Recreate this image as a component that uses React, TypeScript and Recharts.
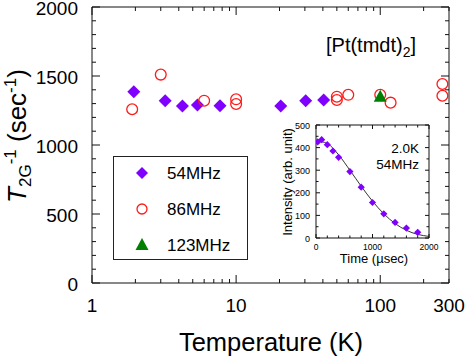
import React from 'react';
import { ScatterChart, Scatter, XAxis, YAxis, Legend, Label } from 'recharts';

const FONT = 'Arial, "Liberation Sans", sans-serif';

// ---- main data: relaxation rate T2G^-1 (sec^-1) vs temperature (K)
const temp54 = [1.95, 3.22, 4.24, 5.39, 7.73, 20.4, 30.4, 40.5];
const rate54 = [1386, 1321, 1283, 1290, 1285, 1283, 1321, 1326];
const temp86 = [1.9, 3.0, 6.0, 10, 10, 50, 50, 60, 100, 118, 270, 270];
const rate86 = [1259, 1510, 1321, 1331, 1297, 1350, 1326, 1364, 1364, 1307, 1442, 1357];
const temp123 = [100];
const rate123 = [1350];

const seriesNames = ['54MHz', '86MHz', '123MHz'];

const xTicks = [1, 2, 3, 4, 5, 6, 7, 8, 9, 10, 20, 30, 40, 50, 60, 70, 80, 90, 100, 200, 300];
const xMajor = [1, 10, 100];
const xLabels = [1, 10, 100, 300];
const yTicks = [0, 100, 200, 300, 400, 500, 600, 700, 800, 900, 1000, 1100, 1200, 1300, 1400, 1500, 1600, 1700, 1800, 1900, 2000];
const yLabels = [0, 500, 1000, 1500, 2000];

// ---- inset data: echo intensity vs time at 2.0 K, 54 MHz
const decayTime = [30, 100, 200, 300, 400, 600, 800, 1000, 1200, 1400, 1600, 1800];
const decayIntensity = [425, 435, 413, 385, 357, 294, 225, 157, 107, 69, 44, 25];
const fitTime = [0, 200, 400, 600, 800, 1000, 1200, 1400, 1600, 1800, 2000];
const fitIntensity = [430, 418, 368, 300, 229, 163, 107, 64, 34, 16, 7];

const insetXTicks = [0, 200, 400, 600, 800, 1000, 1200, 1400, 1600, 1800, 2000];
const insetXLabels = [0, 1000, 2000];
const insetYTicks = [0, 50, 100, 150, 200, 250, 300, 350, 400, 450, 500];
const insetYLabels = [0, 100, 200, 300, 400, 500];

const zip = (xs: number[], ys: number[]) => xs.map((x, i) => ({ x, y: ys[i] }));

const PURPLE = '#7f00ff';
const RED = '#ff1a1a';
const GREEN = '#008000';

type Side = 'left' | 'right' | 'top' | 'bottom';
interface TickOpts {
  labels: number[];
  majors: number[];
  majorLen: number;
  minorLen: number;
  fontSize: number;
  gap: number;
}

function makeTick(side: Side, o: TickOpts) {
  return (props: any) => {
    const { x, y, payload } = props;
    const v = payload.value as number;
    const len = o.majors.includes(v) ? o.majorLen : o.minorLen;
    let x2 = x;
    let y2 = y;
    if (side === 'left') x2 = x + len;
    else if (side === 'right') x2 = x - len;
    else if (side === 'bottom') y2 = y - len;
    else y2 = y + len;
    const show = o.labels.includes(v);
    return (
      <g>
        <line x1={x} y1={y} x2={x2} y2={y2} stroke="#111" strokeWidth={1} />
        {show && side === 'left' && (
          <text x={x - o.gap} y={y} dy="0.41em" textAnchor="end" fontSize={o.fontSize} fontFamily={FONT} fill="#000">
            {v}
          </text>
        )}
        {show && side === 'bottom' && (
          <text x={x} y={y + o.gap} dy="0.71em" textAnchor="middle" fontSize={o.fontSize} fontFamily={FONT} fill="#000">
            {v}
          </text>
        )}
      </g>
    );
  };
}

const noLabel: number[] = [];
const mainBottomTick = makeTick('bottom', { labels: xLabels, majors: xMajor, majorLen: 8, minorLen: 4, fontSize: 19, gap: 16 });
const mainTopTick = makeTick('top', { labels: noLabel, majors: xMajor, majorLen: 8, minorLen: 4, fontSize: 19, gap: 0 });
const mainLeftTick = makeTick('left', { labels: yLabels, majors: yLabels, majorLen: 8, minorLen: 4, fontSize: 19, gap: 14 });
const mainRightTick = makeTick('right', { labels: noLabel, majors: yLabels, majorLen: 8, minorLen: 4, fontSize: 19, gap: 0 });

const inBottomTick = makeTick('bottom', { labels: insetXLabels, majors: insetXLabels, majorLen: 4, minorLen: 2.5, fontSize: 8.5, gap: 6 });
const inTopTick = makeTick('top', { labels: noLabel, majors: insetXLabels, majorLen: 4, minorLen: 2.5, fontSize: 8.5, gap: 0 });
const inLeftTick = makeTick('left', { labels: insetYLabels, majors: insetYLabels, majorLen: 4, minorLen: 2.5, fontSize: 9, gap: 6 });
const inRightTick = makeTick('right', { labels: noLabel, majors: insetYLabels, majorLen: 4, minorLen: 2.5, fontSize: 9, gap: 0 });

const DiamondShape = (half: number, color: string) => (props: any) => {
  const { cx, cy } = props;
  if (cx == null || cy == null) return <g />;
  return (
    <polygon
      points={`${cx},${cy - half} ${cx + half},${cy} ${cx},${cy + half} ${cx - half},${cy}`}
      fill={color}
    />
  );
};

const CircleShape = (r: number, color: string) => (props: any) => {
  const { cx, cy } = props;
  if (cx == null || cy == null) return <g />;
  return <circle cx={cx} cy={cy} r={r} fill="none" stroke={color} strokeWidth={1.3} />;
};

const TriangleShape = (w: number, color: string) => (props: any) => {
  const { cx, cy } = props;
  if (cx == null || cy == null) return <g />;
  const h = w * 0.92;
  return (
    <polygon
      points={`${cx},${cy - h * 0.58} ${cx + w / 2},${cy + h * 0.42} ${cx - w / 2},${cy + h * 0.42}`}
      fill={color}
    />
  );
};

const NoShape = () => <g />;

const LegendBox = () => {
  const rows = [
    { name: seriesNames[0], icon: DiamondShape(6, PURPLE) },
    { name: seriesNames[1], icon: CircleShape(5, RED) },
    { name: seriesNames[2], icon: TriangleShape(13, GREEN) },
  ];
  return (
    <svg width={136} height={105} style={{ display: 'block' }}>
      <rect x={0.5} y={0.5} width={134} height={103} fill="#fff" stroke="#222" strokeWidth={1} />
      {rows.map((r, i) => {
        const cy = 17 + i * 36;
        const Icon = r.icon;
        return (
          <g key={r.name}>
            <Icon cx={29} cy={cy} />
            <text x={54} y={cy + 6} fontSize={17} fontFamily={FONT} fill="#000">
              {r.name}
            </text>
          </g>
        );
      })}
    </svg>
  );
};

const YTitle = () => (
  <text x={26} y={136} transform="rotate(-90, 26, 136)" textAnchor="middle" fontSize={26} fontFamily={FONT} fill="#000">
    <tspan fontStyle="italic">T</tspan>
    <tspan fontSize={17} dy={5}>2G</tspan>
    <tspan fontSize={17} dy={-15}>-1</tspan>
    <tspan fontSize={26} dy={10}> (sec</tspan>
    <tspan fontSize={17} dy={-10}>-1</tspan>
    <tspan fontSize={26} dy={10}>)</tspan>
  </text>
);

const XTitle = () => (
  <text x={271} y={351} textAnchor="middle" fontSize={25.5} fontFamily={FONT} fill="#000">
    Temperature (K)
  </text>
);

const CompoundTitle = () => (
  <text x={326} y={52} fontSize={20} fontFamily={FONT} fill="#000">
    [Pt(tmdt)
    <tspan fontSize={14} dy={5}>2</tspan>
    <tspan fontSize={20} dy={-5}>]</tspan>
  </text>
);

const InsetYTitle = () => (
  <text x={26} y={67} transform="rotate(-90, 26, 67)" textAnchor="middle" fontSize={13} fontFamily={FONT} fill="#000">
    Intensity (arb. unit)
  </text>
);

const InsetXTitle = () => (
  <text x={108} y={148} textAnchor="middle" fontSize={13} fontFamily={FONT} fill="#000">
    Time (µsec)
  </text>
);

const InsetNote = () => (
  <text textAnchor="end" fontSize={13.5} fontFamily={FONT} fill="#000">
    <tspan x={153} y={38}>2.0K</tspan>
    <tspan x={153} y={54}>54MHz</tspan>
  </text>
);

const axisLine = { stroke: '#111', strokeWidth: 1 };

function Inset() {
  return (
    <ScatterChart width={174} height={155} margin={{ top: 9, right: 10, bottom: 31, left: 49 }}>
      <XAxis
        xAxisId="b"
        type="number"
        dataKey="x"
        domain={[0, 2000]}
        allowDataOverflow
        ticks={insetXTicks}
        interval={0}
        height={1}
        tickSize={0}
        tickMargin={0}
        tickLine={false}
        axisLine={axisLine}
        tick={inBottomTick}
      >
        <Label content={() => <InsetXTitle />} />
      </XAxis>
      <XAxis
        xAxisId="t"
        orientation="top"
        type="number"
        dataKey="x"
        domain={[0, 2000]}
        allowDataOverflow
        ticks={insetXTicks}
        interval={0}
        height={1}
        tickSize={0}
        tickMargin={0}
        tickLine={false}
        axisLine={axisLine}
        tick={inTopTick}
      >
        <Label content={() => <InsetNote />} />
      </XAxis>
      <YAxis
        yAxisId="l"
        type="number"
        dataKey="y"
        domain={[0, 500]}
        allowDataOverflow
        ticks={insetYTicks}
        interval={0}
        width={1}
        tickSize={0}
        tickMargin={0}
        tickLine={false}
        axisLine={axisLine}
        tick={inLeftTick}
      >
        <Label content={() => <InsetYTitle />} />
      </YAxis>
      <YAxis
        yAxisId="r"
        orientation="right"
        type="number"
        dataKey="y"
        domain={[0, 500]}
        allowDataOverflow
        ticks={insetYTicks}
        interval={0}
        width={1}
        tickSize={0}
        tickMargin={0}
        tickLine={false}
        axisLine={axisLine}
        tick={inRightTick}
      />
      <Scatter
        xAxisId="b"
        yAxisId="l"
        data={zip(fitTime, fitIntensity)}
        line={{ stroke: '#333', strokeWidth: 1 }}
        lineType="joint"
        lineJointType="monotoneX"
        shape={NoShape}
        isAnimationActive={false}
      />
      <Scatter
        xAxisId="b"
        yAxisId="l"
        data={zip(decayTime, decayIntensity)}
        shape={DiamondShape(3.6, PURPLE)}
        isAnimationActive={false}
      />
      <Scatter xAxisId="t" yAxisId="r" data={[]} shape={NoShape} isAnimationActive={false} />
    </ScatterChart>
  );
}

export default function App() {
  return (
    <div style={{ position: 'absolute', left: 0, top: 0, width: 469, height: 359, background: '#fff' }}>
      <ScatterChart width={469} height={359} margin={{ top: 6, right: 19, bottom: 75, left: 91 }}>
        <XAxis
          xAxisId="b"
          type="number"
          dataKey="x"
          scale="log"
          domain={[1, 300]}
          allowDataOverflow
          ticks={xTicks}
          interval={0}
          height={1}
          tickSize={0}
          tickMargin={0}
          tickLine={false}
          axisLine={axisLine}
          tick={mainBottomTick}
        >
          <Label content={() => <XTitle />} />
        </XAxis>
        <XAxis
          xAxisId="t"
          orientation="top"
          type="number"
          dataKey="x"
          scale="log"
          domain={[1, 300]}
          allowDataOverflow
          ticks={xTicks}
          interval={0}
          height={1}
          tickSize={0}
          tickMargin={0}
          tickLine={false}
          axisLine={axisLine}
          tick={mainTopTick}
        >
          <Label content={() => <CompoundTitle />} />
        </XAxis>
        <YAxis
          yAxisId="l"
          type="number"
          dataKey="y"
          domain={[0, 2000]}
          allowDataOverflow
          ticks={yTicks}
          interval={0}
          width={1}
          tickSize={0}
          tickMargin={0}
          tickLine={false}
          axisLine={axisLine}
          tick={mainLeftTick}
        >
          <Label content={() => <YTitle />} />
        </YAxis>
        <YAxis
          yAxisId="r"
          orientation="right"
          type="number"
          dataKey="y"
          domain={[0, 2000]}
          allowDataOverflow
          ticks={yTicks}
          interval={0}
          width={1}
          tickSize={0}
          tickMargin={0}
          tickLine={false}
          axisLine={axisLine}
          tick={mainRightTick}
        />
        <Legend
          layout="vertical"
          align="center"
          verticalAlign="middle"
          wrapperStyle={{ left: 113, top: 156, width: 136, height: 105, lineHeight: 0 }}
          content={() => <LegendBox />}
        />
        <Scatter
          name={seriesNames[0]}
          xAxisId="b"
          yAxisId="l"
          data={zip(temp54, rate54)}
          shape={DiamondShape(6.5, PURPLE)}
          isAnimationActive={false}
        />
        <Scatter
          name={seriesNames[1]}
          xAxisId="b"
          yAxisId="l"
          data={zip(temp86, rate86)}
          shape={CircleShape(5.4, RED)}
          isAnimationActive={false}
        />
        <Scatter
          name={seriesNames[2]}
          xAxisId="b"
          yAxisId="l"
          data={zip(temp123, rate123)}
          shape={TriangleShape(13, GREEN)}
          isAnimationActive={false}
        />
        <Scatter xAxisId="t" yAxisId="r" data={[]} shape={NoShape} isAnimationActive={false} />
      </ScatterChart>
      <div style={{ position: 'absolute', left: 266, top: 115, width: 174, height: 155 }}>
        <Inset />
      </div>
    </div>
  );
}
